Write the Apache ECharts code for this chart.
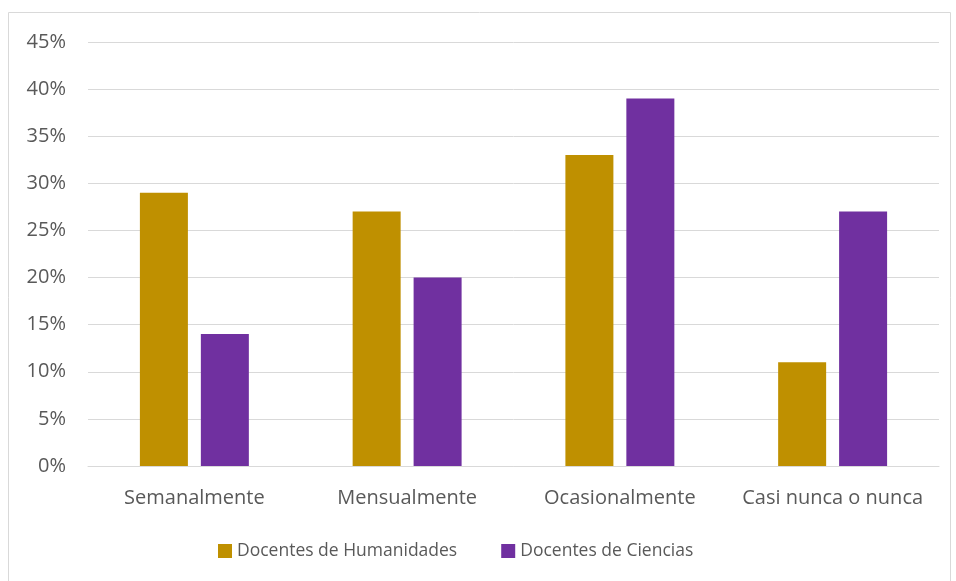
<!DOCTYPE html>
<html><head><meta charset="utf-8">
<script src="https://cdn.jsdelivr.net/npm/echarts@6/dist/echarts.min.js"></script>
<style>html,body{margin:0;padding:0;background:#fff}#c{width:956px;height:581px}</style>
</head><body><div id="c"></div>
<script>
const categories = ['Semanalmente', 'Mensualmente', 'Ocasionalmente', 'Casi nunca o nunca'];
const humanidades = [29, 27, 33, 11];
const ciencias = [14, 20, 39, 27];
const seriesNames = ['Docentes de Humanidades', 'Docentes de Ciencias'];
const font = 'Open Sans';
const chart = echarts.init(document.getElementById('c'));
chart.setOption({
  animation: false,
  textStyle: { fontFamily: font },
  graphic: [{ type: 'rect', shape: { x: 8.5, y: 12.5, width: 942, height: 600 }, style: { fill: 'none', stroke: '#d9d9d9', lineWidth: 1 } }],
  legend: {
    top: 537, left: 213, itemWidth: 14, itemHeight: 14, itemGap: 44,
    icon: 'rect',
    textStyle: { fontSize: 17.5, color: '#595959', fontFamily: font },
    data: seriesNames
  },
  grid: { left: 88, right: 17, top: 42, bottom: 115 },
  xAxis: {
    type: 'category', data: categories,
    axisLine: { lineStyle: { color: '#d9d9d9', width: 1 } },
    axisTick: { show: false },
    axisLabel: { fontSize: 20, color: '#595959', margin: 22, interval: 0, fontFamily: font }
  },
  yAxis: {
    type: 'value', min: 0, max: 45, interval: 5,
    axisLine: { show: false }, axisTick: { show: false },
    splitLine: { lineStyle: { color: '#d9d9d9', width: 1 } },
    axisLabel: { fontSize: 20, color: '#595959', margin: 22, formatter: '{value}%', fontFamily: font }
  },
  series: [
    { name: seriesNames[0], type: 'bar', data: humanidades, barWidth: 48, barGap: '27%', itemStyle: { color: '#BF9000' } },
    { name: seriesNames[1], type: 'bar', data: ciencias, barWidth: 48, itemStyle: { color: '#7030A0' } }
  ]
});
</script></body></html>
